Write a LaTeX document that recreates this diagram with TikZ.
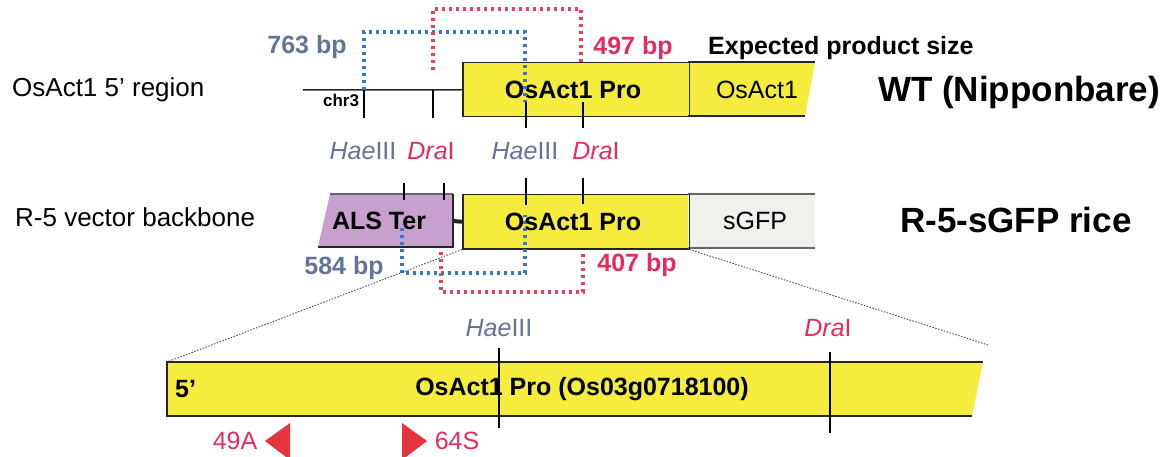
\documentclass[tikz,border=0pt]{standalone}
\usepackage{fontspec}
\setmainfont{Liberation Sans}
\newcommand\myfs[1]{\fontsize{#1}{#1}\selectfont}
\definecolor{gyellow}{RGB}{245,236,62}
\definecolor{alspurple}{RGB}{200,160,207}
\definecolor{gfpgray}{RGB}{238,241,236}
\definecolor{slateblue}{RGB}{100,116,152}
\definecolor{crimson}{RGB}{228,45,92}
\definecolor{dotblue}{RGB}{50,120,205}
\definecolor{dotred}{RGB}{236,62,84}
\definecolor{primred}{RGB}{228,52,62}
\tikzset{
  edge/.style={line width=1.5pt, black!85},
  tick/.style={line width=1.3pt, black},
  blueprod/.style={dotblue, line width=3.2pt, dash pattern=on 3pt off 4pt},
  redprod/.style={dotred, line width=3.2pt, dash pattern=on 3pt off 4pt},
  zoomline/.style={black!70, line width=0.9pt, dash pattern=on 1.5pt off 1.5pt},
  lbl/.style={inner sep=0pt, font=\myfs{26}},
  boldlbl/.style={inner sep=0pt, font=\bfseries\myfs{25}},
  bigbold/.style={inner sep=0pt, font=\bfseries\myfs{35}},
  sitelbl/.style={inner sep=0pt, font=\myfs{25}},
  primer/.style={fill=primred, draw=none}
}
\begin{document}
\begin{tikzpicture}[x=1pt,y=-1pt]
\clip (0,0) rectangle (1172,457);
\fill[white] (0,0) rectangle (1172,457);

% ---------- row 1: WT ----------
\node[lbl, anchor=west] (wtlabel) at (12,90) {OsAct1 5' region};
\coordinate (chrL) at (303,90);
\node[draw=black!85, line width=1.5pt, fill=gyellow, minimum width=226pt, minimum height=54pt, anchor=north west, inner sep=0pt] (pro1) at (462,62) {};
\node[boldlbl] (pro1t) at (573,90) {OsAct1 Pro};
\draw[edge] (chrL) -- (pro1.west);
\fill[gyellow] (688,62) -- (815,62) -- (805,116) -- (688,116) -- cycle;
\draw[edge] (688,62) -- (815,62);
\draw[edge] (688,116) -- (805,116);
\draw[edge] (pro1.north east) -- (pro1.south east);
\node[sitelbl] (act1) at (757,90) {OsAct1};
\node[inner sep=0pt, font=\bfseries\myfs{17}] (chr3) at (341,100) {chr3};

% ticks row 1
\coordinate (t1a) at (364,90);  \coordinate (t1b) at (364,118);
\coordinate (t2a) at (433,90);  \coordinate (t2b) at (433,118);
\coordinate (t3a) at (526,102); \coordinate (t3b) at (526,128);
\coordinate (t4a) at (583,102); \coordinate (t4b) at (583,128);
\draw[tick] (t1a) -- (t1b);
\draw[tick] (t2a) -- (t2b);
\draw[tick] (t3a) -- (t3b);
\draw[tick] (t4a) -- (t4b);

% products row 1
\coordinate (b1s) at (364,90);
\coordinate (b1e) at (525,102);
\draw[blueprod] (b1s) -- (364,32) -- (525,32) -- (b1e);
\coordinate (r1s) at (433,70);
\coordinate (r1e) at (581,63);
\draw[redprod] (r1s) -- (433,9) -- (581,9) -- (r1e);
\node[inner sep=0pt, font=\bfseries\myfs{25}, text=slateblue] (bp763) at (307,47) {763 bp};
\node[inner sep=0pt, font=\bfseries\myfs{25}, text=crimson] (bp497) at (633,48) {497 bp};
\node[boldlbl, anchor=west] (expected) at (708,48) {Expected product size};
\node[bigbold, anchor=west] (wt) at (878,92) {WT (Nipponbare)};

% site labels between rows
\node[sitelbl, text=slateblue] (hae1) at (363,151) {\textit{Hae}III};
\node[sitelbl, text=crimson] (dra1) at (431,151) {\textit{Dra}I};
\node[sitelbl, text=slateblue] (hae2) at (525,151) {\textit{Hae}III};
\node[sitelbl, text=crimson] (dra2) at (596,151) {\textit{Dra}I};

% ---------- row 2: R-5 ----------
\node[lbl, anchor=west] (r5label) at (15,217) {R-5 vector backbone};
\fill[alspurple] (330,194) -- (453,194) -- (453,247) -- (318,247) -- cycle;
\draw[edge, black!60] (330,194) -- (453,194);
\draw[edge] (453,194) -- (453,247) -- (318,247);
\node[boldlbl] (als) at (379,221) {ALS Ter};
\node[draw=black!85, line width=1.5pt, fill=gyellow, minimum width=226pt, minimum height=54pt, anchor=north west, inner sep=0pt] (pro2) at (462,194) {};
\draw[line width=4pt, black!85] (453,221) -- (pro2.west);
\fill[gfpgray] (688,194) rectangle (815,248);
\draw[edge, black!60] (688,194) -- (815,194);
\draw[edge, black!60] (688,248) -- (815,248);
\draw[edge] (pro2.north east) -- (pro2.south east);
\node[sitelbl] (gfp) at (755,221) {sGFP};
\node[bigbold, anchor=west] (r5rice) at (900,220) {R-5-sGFP rice};

% ticks row 2
\draw[tick] (404,183) -- (404,200);
\draw[tick] (444,183) -- (444,200);
\draw[tick] (526,178) -- (526,205);
\draw[tick] (583,178) -- (583,204);

% products row 2
\coordinate (b2s) at (402,228);
\coordinate (b2e) at (525,215);
\draw[blueprod] (b2s) -- (402,273) -- (525,273) -- (b2e);
\coordinate (r2s) at (441,252);
\coordinate (r2e) at (583,252);
\draw[redprod] (r2s) -- (441,292) -- (583,292) -- (r2e);
\node[boldlbl] (pro2t) at (573,222) {OsAct1 Pro};
\node[inner sep=0pt, font=\bfseries\myfs{25}, text=slateblue] (bp584) at (344,268) {584 bp};
\node[inner sep=0pt, font=\bfseries\myfs{25}, text=crimson] (bp407) at (637,265) {407 bp};

% ---------- zoomed promoter ----------
\coordinate (zl) at (167,362);
\coordinate (zr) at (988,345);
\draw[zoomline] (pro2.south west) -- (zl);
\draw[zoomline] (pro2.south east) -- (zr);
\fill[gyellow] (167,362) -- (983,362) -- (972,416) -- (167,416) -- cycle;
\draw[edge] (983,362) -- (167,362) -- (167,416) -- (972,416);
\node[boldlbl, anchor=west] (five) at (175,389) {5'};
\node[boldlbl] (protitle) at (582,389) {OsAct1 Pro (Os03g0718100)};
\draw[tick] (499,348) -- (499,428);
\draw[tick] (830,352) -- (830,433);
\node[sitelbl, text=slateblue] (hae3) at (499,328) {\textit{Hae}III};
\node[sitelbl, text=crimson] (dra3) at (828,328) {\textit{Dra}I};

% primers
\fill[primer] (265,441) -- (290,423) -- (290,460) -- cycle;
\fill[primer] (427,441) -- (402,423) -- (402,460) -- cycle;
\node[sitelbl, text=crimson] (p49) at (235,441) {49A};
\node[sitelbl, text=crimson] (p64) at (457,441) {64S};
\end{tikzpicture}
\end{document}
